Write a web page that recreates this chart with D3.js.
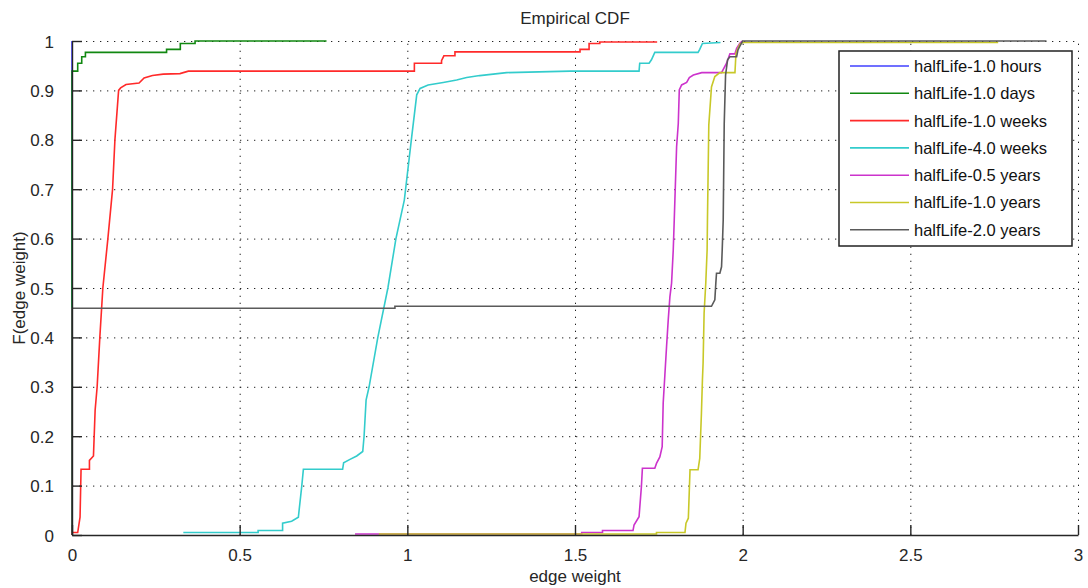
<!DOCTYPE html>
<html>
<head>
<meta charset="utf-8">
<script src="https://cdn.jsdelivr.net/npm/d3@7"></script>
<style>
  body { margin: 0; background: #fff; }
  svg { display: block; font-family: "Liberation Sans", Arial, sans-serif; }
</style>
</head>
<body>
<svg id="chart" width="1088" height="588"></svg>
<script>
// ----- data -----------------------------------------------------------------
const seriesNames = [
    "halfLife-1.0 hours", "halfLife-1.0 days", "halfLife-1.0 weeks", "halfLife-4.0 weeks",
    "halfLife-0.5 years", "halfLife-1.0 years", "halfLife-2.0 years"
];
const seriesColors = ["#4040ff", "#118811", "#ff2a2a", "#33cccc", "#cc33cc", "#c8c828", "#5a5a5a"];

// polyline vertices [edge weight, F]
const hours = [[0, 0], [0, 1]];
const days = [[0, 0], [0, 0.939], [0.017, 0.939], [0.017, 0.955], [0.029, 0.955], [0.029, 0.968],
    [0.04, 0.968], [0.04, 0.977], [0.282, 0.977], [0.282, 0.983], [0.323, 0.983], [0.323, 0.995],
    [0.367, 0.995], [0.367, 1], [0.759, 1]];
const weeks1 = [[0, 0], [0, 0.005], [0.017, 0.005], [0.024, 0.036], [0.027, 0.133], [0.052, 0.133],
    [0.052, 0.151], [0.064, 0.16], [0.069, 0.253], [0.075, 0.3], [0.083, 0.4], [0.092, 0.5],
    [0.107, 0.6], [0.121, 0.7], [0.128, 0.8], [0.139, 0.9], [0.145, 0.905], [0.161, 0.912],
    [0.2, 0.915], [0.215, 0.925], [0.24, 0.93], [0.272, 0.933], [0.322, 0.934], [0.347, 0.939],
    [1.021, 0.939], [1.021, 0.955], [1.102, 0.955], [1.102, 0.96], [1.109, 0.97], [1.142, 0.97],
    [1.142, 0.978], [1.515, 0.978], [1.515, 0.983], [1.542, 0.983], [1.542, 0.995], [1.574, 0.995],
    [1.574, 0.998], [1.745, 0.998]];
const weeks4 = [[0.332, 0.005], [0.555, 0.005], [0.555, 0.009], [0.628, 0.009], [0.628, 0.024],
    [0.655, 0.028], [0.675, 0.036], [0.685, 0.098], [0.69, 0.133], [0.807, 0.133], [0.81, 0.146],
    [0.829, 0.153], [0.849, 0.16], [0.867, 0.169], [0.871, 0.2], [0.877, 0.273], [0.886, 0.3],
    [0.912, 0.4], [0.942, 0.5], [0.966, 0.6], [0.991, 0.678], [1.013, 0.806], [1.028, 0.891],
    [1.038, 0.904], [1.062, 0.911], [1.107, 0.916], [1.147, 0.921], [1.177, 0.926], [1.216, 0.93],
    [1.256, 0.933], [1.296, 0.936], [1.485, 0.939], [1.691, 0.939], [1.693, 0.955], [1.721, 0.955],
    [1.728, 0.962], [1.738, 0.977], [1.867, 0.977], [1.872, 0.983], [1.88, 0.995], [1.934, 0.997]];
const years05 = [[0.844, 0.002], [1.52, 0.002], [1.52, 0.005], [1.582, 0.005], [1.582, 0.009],
    [1.673, 0.009], [1.676, 0.02], [1.691, 0.037], [1.698, 0.098], [1.701, 0.135], [1.738, 0.135],
    [1.743, 0.145], [1.753, 0.158], [1.76, 0.179], [1.763, 0.267], [1.768, 0.324], [1.773, 0.381],
    [1.778, 0.435], [1.783, 0.482], [1.788, 0.51], [1.793, 0.577], [1.796, 0.638], [1.803, 0.786],
    [1.808, 0.833], [1.811, 0.901], [1.818, 0.911], [1.833, 0.916], [1.841, 0.926], [1.853, 0.931],
    [1.878, 0.936], [1.937, 0.936], [1.952, 0.955], [1.962, 0.974], [1.977, 0.974], [1.982, 0.985],
    [1.992, 0.996], [2.0, 1]];
const years1 = [[0.915, 0.002], [1.743, 0.002], [1.743, 0.005], [1.828, 0.005], [1.831, 0.024],
    [1.838, 0.034], [1.843, 0.132], [1.867, 0.132], [1.872, 0.155], [1.877, 0.246], [1.88, 0.314],
    [1.882, 0.348], [1.885, 0.449], [1.89, 0.51], [1.894, 0.577], [1.895, 0.638], [1.899, 0.83],
    [1.907, 0.907], [1.917, 0.928], [1.932, 0.936], [1.977, 0.936], [1.98, 0.975], [1.986, 0.985],
    [1.992, 0.994], [2.0, 0.997], [2.762, 0.997]];
const years2 = [[0, 0], [0, 0.459], [0.963, 0.459], [0.963, 0.463], [1.907, 0.463], [1.917, 0.476],
    [1.92, 0.51], [1.922, 0.53], [1.932, 0.53], [1.937, 0.543], [1.939, 0.577], [1.942, 0.638],
    [1.945, 0.833], [1.949, 0.931], [1.955, 0.962], [1.962, 0.968], [1.982, 0.968], [1.986, 0.982],
    [1.992, 0.99], [2.0, 1], [2.906, 1]];
const seriesValues = [hours, days, weeks1, weeks4, years05, years1, years2];

const xTicks = [0, 0.5, 1, 1.5, 2, 2.5, 3];
const yTicks = [0, 0.1, 0.2, 0.3, 0.4, 0.5, 0.6, 0.7, 0.8, 0.9, 1];

// ----- layout ----------------------------------------------------------------
const svg = d3.select("#chart");
const m = { left: 72, right: 1078, top: 41, bottom: 535 };
const x = d3.scaleLinear().domain([0, 3]).range([m.left, m.right]);
const y = d3.scaleLinear().domain([0, 1]).range([m.bottom, m.top]);
const ink = "#262626";

// grid (dotted)
const grid = svg.append("g").attr("stroke", "#222").attr("stroke-width", 1)
    .attr("stroke-dasharray", "1.3,5.7");
grid.selectAll("line.gx").data(xTicks.slice(1)).join("line")
    .attr("x1", (d) => x(d) + 0.5).attr("x2", (d) => x(d) + 0.5)
    .attr("y1", m.bottom).attr("y2", m.top);
grid.selectAll("line.gy").data(yTicks.slice(1)).join("line")
    .attr("y1", (d) => y(d) + 0.5).attr("y2", (d) => y(d) + 0.5)
    .attr("x1", m.left).attr("x2", m.right);

// series
const line = d3.line().x((d) => x(d[0])).y((d) => y(d[1]));
svg.append("g").attr("fill", "none").attr("stroke-width", 1.6)
    .selectAll("path").data(seriesValues).join("path")
    .attr("stroke", (d, i) => seriesColors[i])
    .attr("d", line);

// axes (left + bottom only, inward ticks)
const xAxis = d3.axisBottom(x).tickValues(xTicks).tickFormat(d3.format("")).tickSizeInner(-10).tickSizeOuter(0).tickPadding(14);
const yAxis = d3.axisLeft(y).tickValues(yTicks).tickFormat(d3.format("")).tickSizeInner(-10).tickSizeOuter(0).tickPadding(18);
const gx = svg.append("g").attr("transform", `translate(0,${m.bottom})`).call(xAxis);
const gy = svg.append("g").attr("transform", `translate(${m.left},0)`).call(yAxis);
[gx, gy].forEach((g) => {
    g.select(".domain").attr("stroke", ink).attr("stroke-width", 1.4);
    g.selectAll(".tick line").attr("stroke", ink).attr("stroke-width", 1.4);
    g.selectAll(".tick text").attr("fill", ink).attr("font-size", 17)
        .attr("font-family", "'Liberation Sans', Arial, sans-serif");
});
gy.selectAll(".tick text").attr("dy", "0.36em");

// titles
svg.append("text").attr("x", (m.left + m.right) / 2).attr("y", 24).attr("text-anchor", "middle")
    .attr("font-size", 17).attr("fill", ink).text("Empirical CDF");
svg.append("text").attr("x", (m.left + m.right) / 2).attr("y", 582).attr("text-anchor", "middle")
    .attr("font-size", 17).attr("fill", ink).text("edge weight");
svg.append("text").attr("transform", `translate(25,${(m.top + m.bottom) / 2}) rotate(-90)`)
    .attr("text-anchor", "middle").attr("font-size", 17).attr("fill", ink).text("F(edge weight)");

// legend
const lg = svg.append("g").attr("transform", "translate(839,51)");
lg.append("rect").attr("width", 233).attr("height", 195).attr("fill", "#fff")
    .attr("stroke", "#222").attr("stroke-width", 1.5);
const row = lg.selectAll("g.row").data(seriesNames).join("g")
    .attr("transform", (d, i) => `translate(0,${15 + i * 27.3})`);
row.append("line").attr("x1", 11).attr("x2", 70).attr("stroke-width", 1.6)
    .attr("stroke", (d, i) => seriesColors[i]);
row.append("text").attr("x", 75).attr("dy", "0.36em").attr("font-size", 16.5)
    .attr("fill", "#111").text((d) => d);
</script>
</body>
</html>
